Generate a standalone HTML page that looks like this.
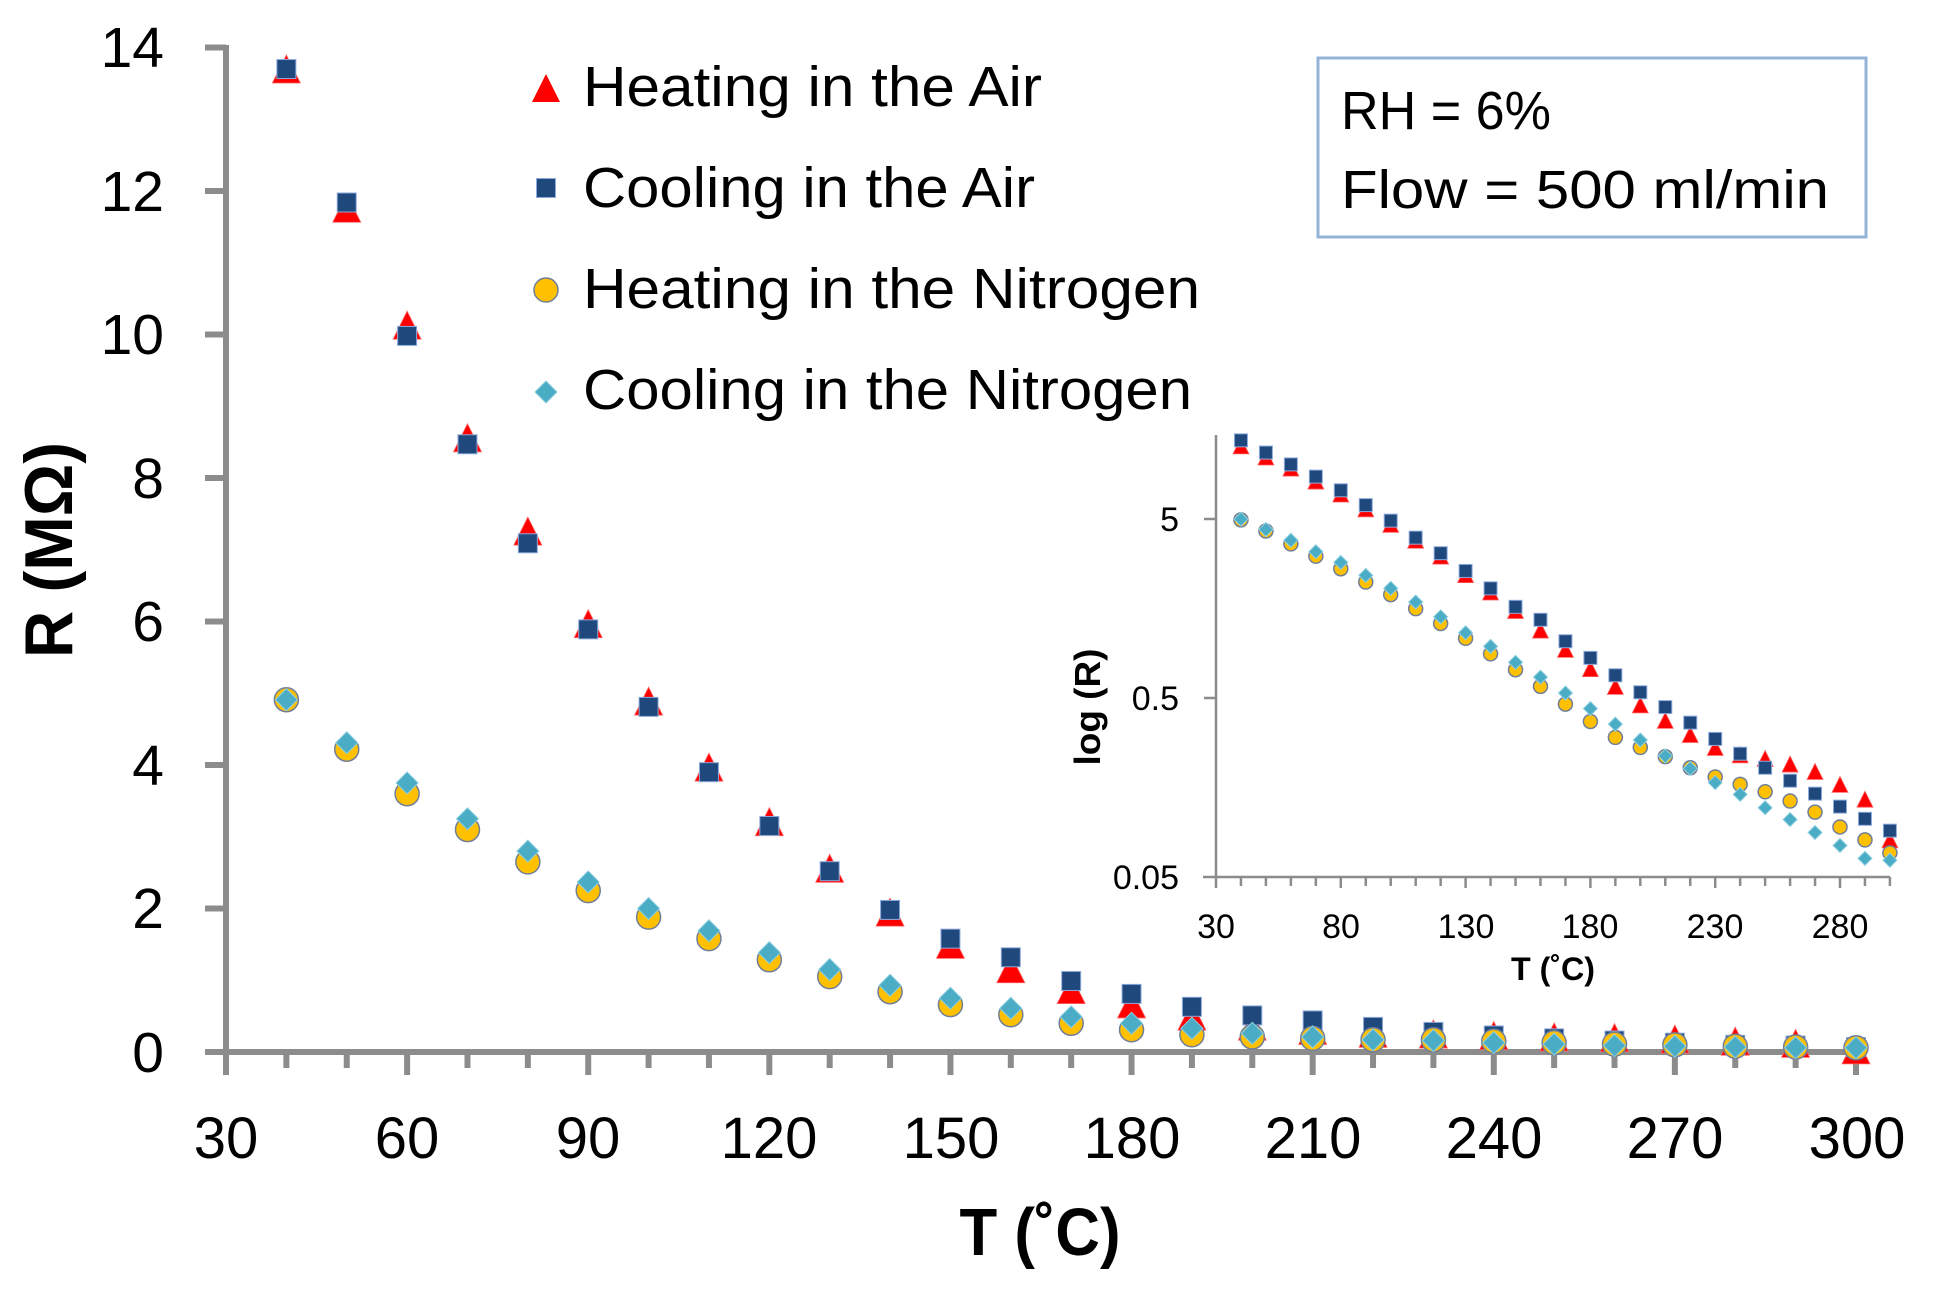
<!DOCTYPE html>
<html>
<head>
<meta charset="utf-8">
<style>
  html, body { margin:0; padding:0; background:#ffffff; }
  svg { display:block; }
  text { font-family: "Liberation Sans", "DejaVu Sans", sans-serif; fill:#000; }
</style>
</head>
<body>
<svg id="chart" xmlns="http://www.w3.org/2000/svg" width="1936" height="1292" viewBox="0 0 1936 1292">
  <rect x="0" y="0" width="1936" height="1292" fill="#ffffff"/>

  <!-- Main axes -->
  <g stroke="#8c8c8c" stroke-width="6" fill="none">
    <line x1="226" y1="45" x2="226" y2="1075"/>
    <line x1="205" y1="1052" x2="1862" y2="1052"/>
  </g>
  <g id="mainTicks" stroke="#8c8c8c" stroke-width="6"></g>

  <!-- Y tick labels -->
  <g font-size="57" text-anchor="end">
    <text x="164" y="67">14</text>
    <text x="164" y="211">12</text>
    <text x="164" y="354">10</text>
    <text x="164" y="498">8</text>
    <text x="164" y="641">6</text>
    <text x="164" y="785">4</text>
    <text x="164" y="928">2</text>
    <text x="164" y="1072">0</text>
  </g>

  <!-- X tick labels -->
  <g font-size="58" text-anchor="middle">
    <text x="226" y="1158">30</text>
    <text x="407" y="1158">60</text>
    <text x="588" y="1158">90</text>
    <text x="769" y="1158">120</text>
    <text x="951" y="1158">150</text>
    <text x="1132" y="1158">180</text>
    <text x="1313" y="1158">210</text>
    <text x="1494" y="1158">240</text>
    <text x="1675" y="1158">270</text>
    <text x="1857" y="1158">300</text>
  </g>

  <!-- Axis titles -->
  <text x="1040" y="1255" font-size="67" font-weight="bold" text-anchor="middle" textLength="161" lengthAdjust="spacingAndGlyphs">T (˚C)</text>
  <text transform="translate(72,550) rotate(-90)" font-size="68" font-weight="bold" text-anchor="middle" textLength="216" lengthAdjust="spacingAndGlyphs">R (MΩ)</text>

  <!-- Legend -->
  <polygon points="546,74 532,102 560,102" fill="#ff0000"/>
  <rect x="536.5" y="178.5" width="19" height="19" fill="#1f497d" stroke="#8eaadb" stroke-width="1"/>
  <circle cx="546" cy="290" r="12" fill="#ffc000" stroke="#6f7f99" stroke-width="1.5"/>
  <polygon points="546,381 557,392 546,403 535,392" fill="#4bacc6" stroke="#8fd0e0" stroke-width="1"/>
  <g font-size="57">
    <text x="583" y="106" textLength="459" lengthAdjust="spacingAndGlyphs">Heating in the Air</text>
    <text x="583" y="207" textLength="452" lengthAdjust="spacingAndGlyphs">Cooling in the Air</text>
    <text x="583" y="308" textLength="617" lengthAdjust="spacingAndGlyphs">Heating in the Nitrogen</text>
    <text x="583" y="409" textLength="609" lengthAdjust="spacingAndGlyphs">Cooling in the Nitrogen</text>
  </g>

  <!-- Info box -->
  <rect x="1318" y="58" width="548" height="179" fill="#ffffff" stroke="#95b3d7" stroke-width="3"/>
  <g font-size="54">
    <text x="1341" y="129" textLength="210" lengthAdjust="spacingAndGlyphs">RH = 6%</text>
    <text x="1341" y="208" textLength="488" lengthAdjust="spacingAndGlyphs">Flow = 500 ml/min</text>
  </g>

  <!-- Main series -->
  <g id="mainSeries"></g>

  <!-- Inset axes -->
  <g stroke="#8c8c8c" stroke-width="2.5" fill="none">
    <line x1="1216" y1="435" x2="1216" y2="878"/>
    <line x1="1203" y1="877" x2="1890" y2="877"/>
    <line x1="1204" y1="519" x2="1216" y2="519"/>
    <line x1="1204" y1="698" x2="1216" y2="698"/>
  </g>
  <g id="insetTicks" stroke="#8c8c8c" stroke-width="2.5"></g>
  <g font-size="34" text-anchor="end">
    <text x="1179" y="531">5</text>
    <text x="1179" y="710">0.5</text>
    <text x="1179" y="889">0.05</text>
  </g>
  <g font-size="34" text-anchor="middle">
    <text x="1216" y="938">30</text>
    <text x="1341" y="938">80</text>
    <text x="1466" y="938">130</text>
    <text x="1590" y="938">180</text>
    <text x="1715" y="938">230</text>
    <text x="1840" y="938">280</text>
  </g>
  <text x="1553" y="980" font-size="32" font-weight="bold" text-anchor="middle" textLength="84" lengthAdjust="spacingAndGlyphs">T (˚C)</text>
  <text transform="translate(1100,707) rotate(-90)" font-size="36" font-weight="bold" text-anchor="middle" textLength="117" lengthAdjust="spacingAndGlyphs">log (R)</text>

  <g id="insetSeries"></g>
</svg>

<script>
(function(){
  var NS = "http://www.w3.org/2000/svg";
  function el(parent, name, attrs){
    var e = document.createElementNS(NS, name);
    for (var k in attrs) e.setAttribute(k, attrs[k]);
    parent.appendChild(e);
    return e;
  }
  // Main ticks
  var mt = document.getElementById("mainTicks");
  for (var T=30; T<=300; T+=10){
    var x = 226 + (T-30)*6.037;
    var major = ((T-30)%30===0);
    el(mt,"line",{x1:x,y1:1052,x2:x,y2: major?1075:1068});
  }
  for (var v=2; v<=14; v+=2){
    var y = 1052 - v*71.75;
    el(mt,"line",{x1:205,y1:y,x2:226,y2:y});
  }
  // Inset ticks
  var it = document.getElementById("insetTicks");
  for (var T2=30; T2<=300; T2+=10){
    var xi = 1216 + (T2-30)*2.496;
    var maj = ((T2-30)%50===0);
    el(it,"line",{x1:xi,y1:877,x2:xi,y2: maj?888:886});
  }

  var Ts = [];
  for (var t=40; t<=300; t+=10) Ts.push(t);

  var HA = [13.70,11.76,10.13,8.56,7.26,5.97,4.89,3.97,3.21,2.56,1.95,1.50,1.16,0.87,0.67,0.50,0.36,0.30,0.26,0.25,0.23,0.21,0.20,0.18,0.15,0.12,0.03];
  var CA = [13.70,11.84,9.98,8.47,7.09,5.89,4.81,3.90,3.15,2.52,1.98,1.58,1.32,0.99,0.81,0.63,0.51,0.44,0.35,0.28,0.23,0.19,0.16,0.13,0.10,0.09,0.07];
  var HN = [4.91,4.22,3.60,3.10,2.65,2.25,1.88,1.58,1.285,1.05,0.84,0.66,0.52,0.40,0.31,0.24,0.21,0.19,0.17,0.17,0.15,0.13,0.11,0.10,0.08,0.07,0.06];
  var CN = [4.91,4.31,3.75,3.25,2.80,2.37,2.00,1.69,1.385,1.15,0.93,0.75,0.61,0.49,0.40,0.33,0.26,0.21,0.17,0.16,0.13,0.11,0.09,0.08,0.07,0.06,0.06];

  function tri(g,cx,cy,s){
    var h=s/2;
    el(g,"polygon",{points:(cx)+","+(cy-h)+" "+(cx-h)+","+(cy+h)+" "+(cx+h)+","+(cy+h), fill:"#ff0000", stroke:"#ff6060", "stroke-width":0.8});
  }
  function sq(g,cx,cy,s){
    el(g,"rect",{x:cx-s/2,y:cy-s/2,width:s,height:s,fill:"#1f497d",stroke:"#8eaadb","stroke-width":1});
  }
  function cir(g,cx,cy,r){
    el(g,"circle",{cx:cx,cy:cy,r:r,fill:"#ffc000",stroke:"#6f7f99","stroke-width":1.5});
  }
  function dia(g,cx,cy,h){
    el(g,"polygon",{points:cx+","+(cy-h)+" "+(cx+h)+","+cy+" "+cx+","+(cy+h)+" "+(cx-h)+","+cy, fill:"#4bacc6", stroke:"#8fd0e0","stroke-width":1});
  }

  var ms = document.getElementById("mainSeries");
  function mx(T){ return 226 + (T-30)*6.037; }
  function my(R){ return 1052 - R*71.75; }
  var i;
  for (i=0;i<Ts.length;i++) tri(ms, mx(Ts[i]), my(HA[i]), 28);
  for (i=0;i<Ts.length;i++) sq(ms, mx(Ts[i]), my(CA[i]), 19);
  for (i=0;i<Ts.length;i++) cir(ms, mx(Ts[i]), my(HN[i]), 12);
  for (i=0;i<Ts.length;i++) dia(ms, mx(Ts[i]), my(CN[i]), 11);

  // Inset (values as zoomed pixel positions -> real)
  var sqZ=[55,88,120,153,190,230,272,318,360,408,455,505,540,598,643,690,736,776,818,862,902,940,975,1010,1045,1078,1110];
  var triZ=[70,100,130,165,200,240,282,325,368,418,465,515,568,620,672,720,770,812,850,885,905,915,930,950,985,1025,1135];
  var cirZ=[270,300,335,368,402,438,472,510,550,590,632,675,720,768,815,858,885,910,940,965,985,1005,1030,1060,1100,1135,1170];
  var diaZ=[268,296,325,356,385,420,455,492,532,575,612,655,695,738,780,822,865,908,942,980,1012,1048,1080,1115,1150,1185,1190];
  var is = document.getElementById("insetSeries");
  function ix(T){ return 1216 + (T-30)*2.496; }
  function iy(z){ return 420 + z/2.703; }
  for (i=0;i<Ts.length;i++) tri(is, ix(Ts[i]), iy(triZ[i]), 16);
  for (i=0;i<Ts.length;i++) sq(is, ix(Ts[i]), iy(sqZ[i]), 13);
  for (i=0;i<Ts.length;i++) cir(is, ix(Ts[i]), iy(cirZ[i]), 7);
  for (i=0;i<Ts.length;i++) dia(is, ix(Ts[i]), iy(diaZ[i]), 7);
})();
</script>
</body>
</html>
